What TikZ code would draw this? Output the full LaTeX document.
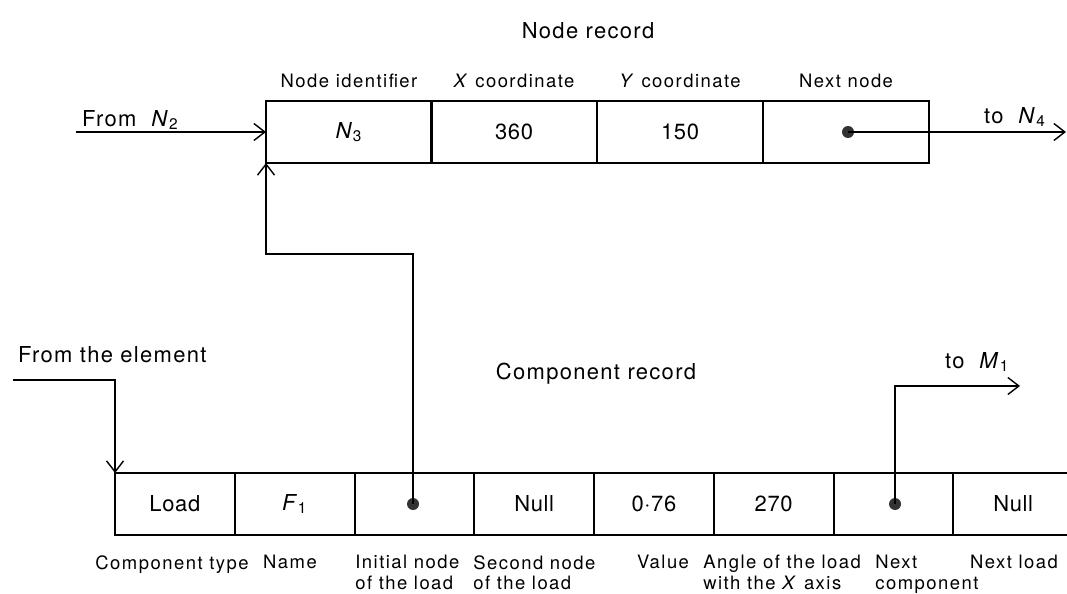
\documentclass[tikz,border=0pt]{standalone}
\usepackage{fontspec}
\setmainfont[LetterSpace=3]{TeX Gyre Heros}
\newfontfamily\titlefont[LetterSpace=6]{TeX Gyre Heros}
\newfontfamily\labelfont[LetterSpace=8]{TeX Gyre Heros}
\usetikzlibrary{arrows.meta,positioning}
\newcommand{\vname}[2]{\textit{#1}\textsubscript{#2}}
\tikzset{
  cellA/.style={draw,line width=1.1pt,minimum width=3.32cm,minimum height=1.24cm,inner sep=0,outer sep=0,font=\fontsize{12.5}{14}\selectfont},
  cellB/.style={cellA,minimum width=2.395cm},
  ptr/.style={circle,fill=black!80,inner sep=0,minimum size=0.24cm},
  conn/.style={line width=0.8pt,-{Straight Barb[length=2.2mm,width=3.4mm]}},
  ttl/.style={font=\titlefont\fontsize{12.5}{14}\selectfont},
  lbl/.style={font=\labelfont\fontsize{10.5}{11.6}\selectfont,inner sep=0}
}
\begin{document}
\begin{tikzpicture}[x=0.02cm,y=-0.02cm]
  \useasboundingbox (0,0) rectangle (1067,594);
  % node record
  \node[cellA] (nid) at (349,132) {\vname{N}{3}};
  \node[cellA] (xco) at (514,132) {360};
  \node[cellA] (yco) at (680,132) {150};
  \node[cellA] (nxt) at (846,132) {};
  \node[ptr] (pnext) at (848,132) {};
  \node[ttl] (nrec) at (588,31) {Node record};
  \foreach \c/\t in {nid/Node identifier, xco/{\textit{X} coordinate}, yco/{\textit{Y} coordinate}, nxt/Next node}
    \node[lbl,above=0.26cm of \c] {\t};
  \node[ttl,anchor=west] (fromN) at (76,120) {From\ \ \vname{N}{2}};
  \node[ttl,anchor=west] (toN) at (978,117) {to\ \ \vname{N}{4}};
  \coordinate (inN) at (76,132);
  \coordinate (outN) at (1066,132);
  \draw[conn] (inN) -- (nid.west);
  \draw[conn] (pnext.center) -- (outN);
  % component record
  \foreach \n/\t [count=\i from 0] in {load/Load, name/{\vname{F}{1}}, init/{}, second/Null, val/0·76, ang/270, ncomp/{}, nload/Null}
    \node[cellB] (\n) at (174.9+\i*119.75,504) {\t};
  \node[ptr] (pinit) at (413,504) {};
  \node[ptr] (pcomp) at (895,504) {};
  \node[ttl] (crec) at (596,374) {Component record};
  \node[ttl,anchor=west] (fromEl) at (12,355) {From the element};
  \node[ttl,anchor=west] (toM) at (939,362) {to\ \ \vname{M}{1}};
  \coordinate (inEl) at (13,380);
  \coordinate (outM) at (1020,386);
  \draw[conn] (inEl) -| (load.north west);
  \draw[conn] (pcomp.center) |- (outM);
  \draw[conn] (pinit.center) -- (413,254) -| (nid.south west);
  % field names
  \node[lbl,anchor=north] at (172,555) {Component type};
  \node[lbl,anchor=north] at (290,555) {Name};
  \node[lbl,anchor=north west,align=left] at (355,555) {Initial node\\of the load};
  \node[lbl,anchor=north west,align=left] at (473,555) {Second node\\of the load};
  \node[lbl,anchor=north] at (663,555) {Value};
  \node[lbl,anchor=north west,align=left] at (703,555) {Angle of the load\\with the \textit{X} axis};
  \node[lbl,anchor=north west,align=left] at (875,555) {Next\\component};
  \node[lbl,anchor=north] at (1014,555) {Next load};
\end{tikzpicture}
\end{document}
